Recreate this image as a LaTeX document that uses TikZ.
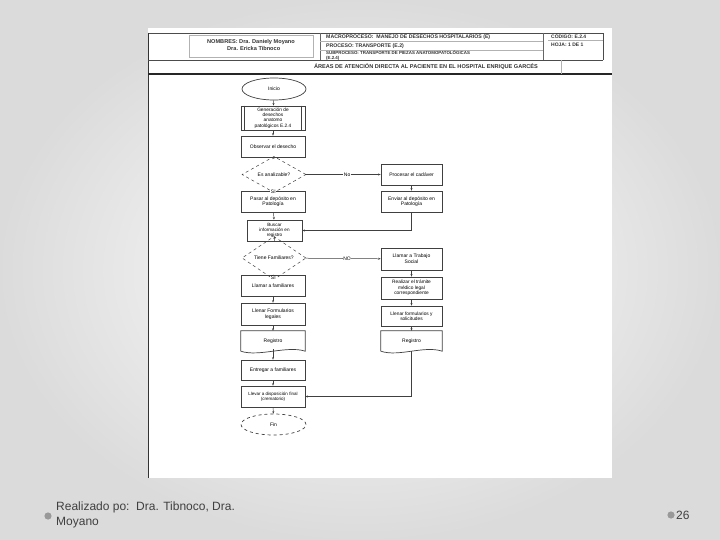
\documentclass[tikz,border=0pt]{standalone}
\usepackage{fontspec}
\setmainfont{Liberation Sans}
\usetikzlibrary{shapes.geometric,arrows.meta,calc}

\begin{document}
\begin{tikzpicture}[x=1pt,y=-1pt,
  procbox/.style={draw=black!75, line width=0.7pt, minimum width=64, minimum height=21, align=center, inner sep=1pt, font=\fontsize{5}{5.6}\selectfont},
  sidebox/.style={procbox, minimum width=61},
  askbox/.style={diamond, draw=black!75, dashed, line width=0.5pt, minimum width=64, minimum height=19, inner sep=0pt, font=\fontsize{5}{5.6}\selectfont},
  endbox/.style={ellipse, draw=black!75, line width=0.7pt, minimum width=64, minimum height=22, inner sep=0pt, font=\fontsize{5}{5.6}\selectfont},
  docbox/.style={minimum width=64, minimum height=20, inner sep=1pt, font=\fontsize{5}{5.6}\selectfont},
  arr/.style={draw=black!75, line width=0.5pt, -{Stealth[length=2.5pt,width=2pt]}},
  tag/.style={fill=white, inner sep=0.5pt, font=\fontsize{5}{5.6}\selectfont},
  head/.style={font=\fontsize{5.6}{6.2}\selectfont\bfseries, text=black!80, inner sep=0pt}
]
% slide background
\shade[inner color=white, outer color=black!14] (0,0) rectangle (720,540);
\fill[white] (148,28) rectangle (612,478);

% header of the sheet
\draw[black!70, line width=0.6pt] (148,33) -- (603,33) -- (603,60);
\draw[black!80, line width=0.9pt] (148,33) -- (148,478);
\draw[black!70, line width=0.6pt] (148,60) -- (603,60);
\draw[black!85, line width=1.2pt] (148,74) -- (612,74);
\draw[black!60, line width=0.8pt] (320,33) -- (320,60);
\draw[black!60, line width=0.8pt] (543,33) -- (543,60);
\draw[black!30, line width=0.4pt] (189,35) rectangle (313,57);
\draw[black!30, line width=0.4pt] (320,41.5) -- (543,41.5);
\draw[black!30, line width=0.4pt] (320,50) -- (543,50);
\draw[black!30, line width=0.4pt] (548,40.5) -- (603,40.5);
\draw[black!30, line width=0.4pt] (561,60) -- (561,74);

\node[head, align=left] (names) at (251,45) {NOMBRES: Dra. Daniely Moyano\\\hspace{20pt}Dra. Ericka Tibnoco};
\node[head, anchor=west, font=\fontsize{5.2}{6}\selectfont\bfseries] (macro) at (326,37.5) {MACROPROCESO:\ \ MANEJO DE DESECHOS HOSPITALARIOS (E)};
\node[head, anchor=west, font=\fontsize{5.2}{6}\selectfont\bfseries] (proceso) at (326,46) {PROCESO: TRANSPORTE (E.2)};
\node[head, anchor=west, align=left, font=\fontsize{4.4}{4.6}\selectfont\bfseries] (subproc) at (326,55.3) {SUBPROCESO: TRANSPORTE DE PIEZAS ANATOMOPATOL\'OGICAS\\(E.2.4)};
\node[head, anchor=west, font=\fontsize{5}{6}\selectfont\bfseries] (codigo) at (551,36.5) {C\'ODIGO: E.2.4};
\node[head, anchor=west, font=\fontsize{5}{6}\selectfont\bfseries] (hoja) at (551,44.5) {HOJA: 1 DE 1};
\node[head] (areas) at (426,66.5) {\'AREAS DE ATENCI\'ON DIRECTA AL PACIENTE EN EL HOSPITAL ENRIQUE GARC\'ES};

% left column
\node[endbox] (inicio) at (274,89) {Inicio};
\node[procbox, minimum height=24, font=\fontsize{4.8}{5.3}\selectfont] (gen) at (273,118) {Generaci\'on de\\desechos\\anatomo\\patol\'ogicos E.2.4};
\draw[black!75, line width=0.5pt] ([xshift=4pt]gen.north west) -- ([xshift=4pt]gen.south west);
\draw[black!75, line width=0.5pt] ([xshift=-4pt]gen.north east) -- ([xshift=-4pt]gen.south east);
\node[procbox] (obs) at (273,146.5) {Observar el desecho};
\node[askbox] (q1) at (274,174.5) {Es analizable?};
\node[procbox] (pasar) at (273,201.5) {Pasar al dep\'osito en\\Patolog\'ia};
\node[procbox, minimum width=55, font=\fontsize{4.6}{5}\selectfont] (busc) at (274.5,230.5) {Buscar\\informaci\'on en\\registro};
\node[askbox] (q2) at (274,258) {Tiene Familiares?};
\node[procbox] (fam) at (273,285.5) {Llamar a familiares};
\node[procbox, minimum height=22] (form) at (273,314) {Llenar Formularios\\legales};
\node[docbox] (regA) at (273,341) {Registro};
\node[procbox, minimum height=20] (entr) at (273,370) {Entregar a familiares};
\node[procbox, font=\fontsize{4.5}{5.3}\selectfont] (disp) at (273,396.5) {Llevar a disposici\'on final\\(crematorio)};
\node[endbox, dashed, minimum width=65, minimum height=21] (fin) at (273.5,424.5) {Fin};

% right column
\node[sidebox] (proc) at (411.5,174.5) {Procesar el cad\'aver};
\node[sidebox] (env) at (411.5,201.5) {Enviar al dep\'osito en\\Patolog\'ia};
\node[sidebox, minimum height=22] (trab) at (411.5,259) {Llamar a Trabajo\\Social};
\node[sidebox, minimum height=22, font=\fontsize{4.8}{5.3}\selectfont] (real) at (411.5,288) {Realizar el tr\'amite\\m\'edico legal\\correspondiente};
\node[sidebox, minimum height=20, font=\fontsize{4.8}{5.3}\selectfont] (llen) at (411.5,316) {Llenar formularios y\\solicitudes};
\node[docbox, minimum width=61] (regB) at (411.5,341) {Registro};

% document outlines
\foreach \d in {regA,regB}{
  \draw[black!75, line width=0.7pt] (\d.south west) -- (\d.north west) -- (\d.north east) -- (\d.south east)
    .. controls +(-18,-6) and +(18,6) .. (\d.south west);
}

% connectors
\draw[arr] (inicio) -- (gen);
\draw[arr] (gen) -- (obs);
\draw[arr] (obs) -- (q1);
\draw[arr] (q1) -- node[pos=0.3, tag] {SI} (pasar);
\draw[arr] (q1) -- node[pos=0.55, tag] {No} (proc);
\draw[arr] (proc) -- (env);
\draw[arr] (pasar) -- (busc);
\draw[arr] (env.south) |- (busc.east);
\draw[arr] (busc) -- (q2);
\draw[arr] (q2) -- node[pos=0.55, tag] {NO} (trab);
\draw[arr] (q2) -- node[pos=0.3, tag] {SI} (fam);
\draw[arr] (fam) -- (form);
\draw[arr] (form) -- (regA);
\draw[arr] (trab) -- (real);
\draw[arr] (real) -- (llen);
\draw[arr] (llen) -- (regB);
\draw[arr] ([yshift=2pt]regA.south) -- (entr);
\draw[arr] (entr) -- (disp);
\draw[arr] (disp) -- (fin);
\draw[arr] (regB.south) |- (disp.east);

% footer of the slide
\fill[black!40] (48,516) circle (3.6);
\node[anchor=north west, align=left, inner sep=0pt, text=black!75, font=\fontsize{12}{14.5}\selectfont] (autor) at (56,502) {Realizado po:\ \ Dra. Tibnoco, Dra.\\Moyano};
\fill[black!40] (671,515) circle (3.6);
\node[anchor=west, inner sep=0pt, text=black!75, font=\fontsize{12}{14}\selectfont] (pagina) at (676,515) {26};
\end{tikzpicture}
\end{document}
